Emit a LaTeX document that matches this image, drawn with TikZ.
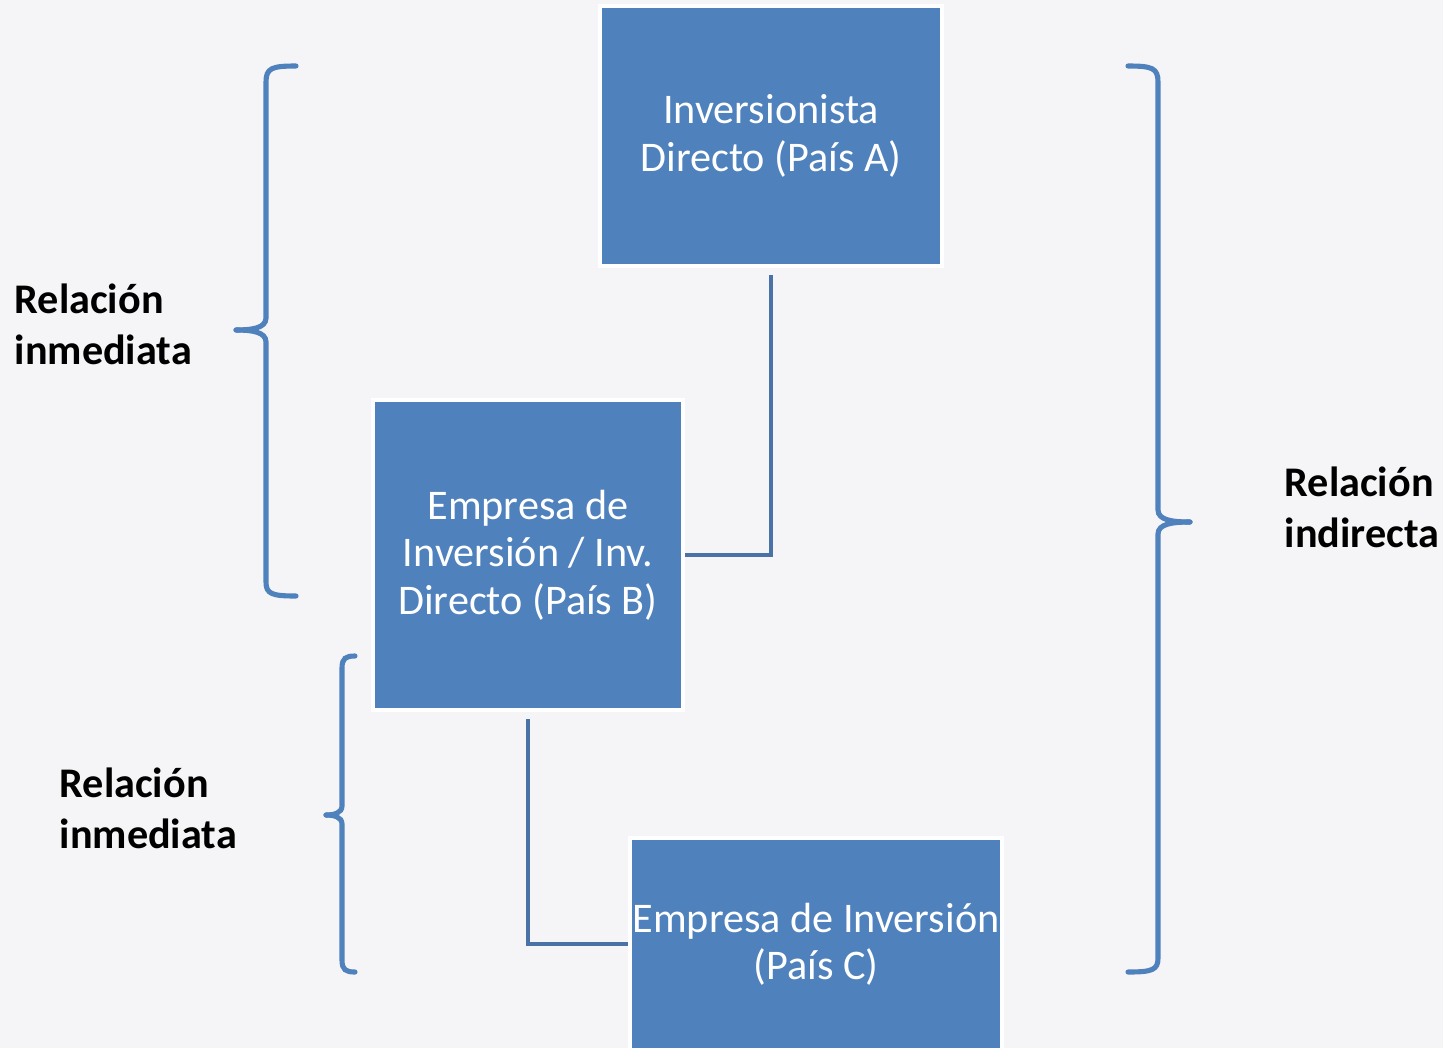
\documentclass[tikz,border=0pt]{standalone}
\usepackage{fontspec}
\setmainfont{Carlito}
\usepackage{tikz}

\definecolor{boxblue}{HTML}{4F81BD}
\definecolor{linkblue}{HTML}{4A72A6}
\definecolor{paper}{HTML}{F5F5F7}

\tikzset{
	caja/.style={rectangle, fill=boxblue, draw=white, line width=1.15pt, text=white, align=center, font=\fontsize{12}{13.5}\selectfont},
	rel/.style={anchor=west, inner sep=0pt, align=left, font=\fontsize{12}{14.5}\selectfont\bfseries},
	enlace/.style={draw=linkblue, line width=1.15pt},
	llave/.style={draw=boxblue, line width=1.45pt, line cap=round}
}

\begin{document}
\begin{tikzpicture}[x=0.01cm, y=-0.01cm]
			\fill[paper] (0,0) rectangle (1443,1048);
			\useasboundingbox (0,0) rectangle (1443,1048);
			
				%Cajas
				\node[caja, minimum width=3.42cm, minimum height=2.60cm] (paisA) at (771,136) {Inversionista\\Directo (País A)};
				\node[caja, minimum width=3.10cm, minimum height=3.10cm] (paisB) at (528,555) {Empresa de\\Inversión / Inv.\\Directo (País B)};
				\node[caja, minimum width=3.72cm, minimum height=2.12cm, inner sep=0pt] (paisC) at (816,944) {Empresa de Inversión\\(País C)};
				
				%Enlaces
				\draw[enlace, shorten <=2pt] (paisA.south) |- (paisB.east);
				\draw[enlace, shorten <=2pt] (paisB.south) |- (paisC.west);
		
		%Llaves
		\draw[llave] (296,66) .. controls (272,66) and (266,68) .. (266,82) -- (266,318) .. controls (266,328) and (252,330) .. (236,330);
		\draw[llave] (236,330) .. controls (252,330) and (266,332) .. (266,342) -- (266,582) .. controls (266,594) and (272,596) .. (296,596);
		
		\draw[llave] (355,656) .. controls (346,656) and (342,658) .. (342,668) -- (342,806) .. controls (342,813) and (334,815) .. (326,815);
		\draw[llave] (326,815) .. controls (334,815) and (342,817) .. (342,824) -- (342,960) .. controls (342,970) and (346,972) .. (355,972);
		
		\draw[llave] (1128,66) .. controls (1152,66) and (1158,68) .. (1158,82) -- (1158,510) .. controls (1158,520) and (1172,522) .. (1190,522);
		\draw[llave] (1190,522) .. controls (1172,522) and (1158,524) .. (1158,534) -- (1158,958) .. controls (1158,970) and (1152,972) .. (1128,972);
		
		%Etiquetas
		\node[rel] (relA) at (14,324) {Relación\\inmediata};
		\node[rel] (relB) at (59,808) {Relación\\inmediata};
		\node[rel] (relC) at (1284,507) {Relación\\indirecta};
	\end{tikzpicture}
\end{document}
